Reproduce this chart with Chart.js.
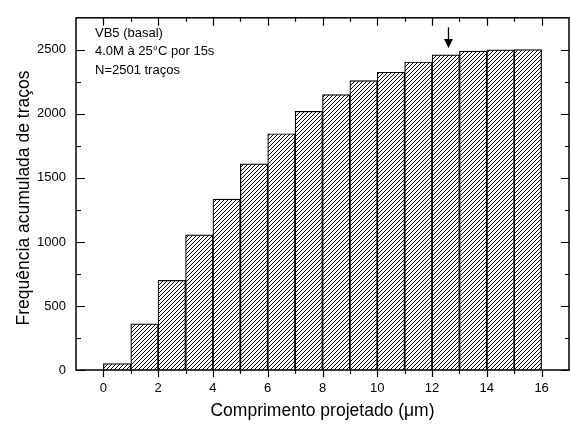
<!DOCTYPE html>
<html>
<head>
<meta charset="utf-8">
<script src="https://cdn.jsdelivr.net/npm/chart.js@4.4.1/dist/chart.umd.min.js"></script>
<style>
  html, body { margin: 0; padding: 0; background: #fff; }
</style>
</head>
<body>
<canvas id="chart" width="570" height="430"></canvas>
<script>
// histogram bins (um) and cumulative counts
const binStart = [0, 1, 2, 3, 4, 5, 6, 7, 8, 9, 10, 11, 12, 13, 14, 15]
const binEnd = [1, 2, 3, 4, 5, 6, 7, 8, 9, 10, 11, 12, 13, 14, 15, 16]
const cumCount = [50, 360, 700, 1055, 1335, 1610, 1845, 2020, 2150, 2260, 2325, 2405, 2460, 2490, 2500, 2501]

const xMajor = [0, 2, 4, 6, 8, 10, 12, 14, 16]
const xMinor = [1, 3, 5, 7, 9, 11, 13, 15]
const yMajor = [0, 500, 1000, 1500, 2000, 2500]
const yMinor = [250, 750, 1250, 1750, 2250]

const notes = ['VB5 (basal)', '4.0M à 25°C por 15s', 'N=2501 traços']
const arrowX = 12.6
const arrowTip = 2515
const arrowTail = 2675

const xTitle = 'Comprimento projetado (\u03bcm)'
const yTitle = 'Frequência acumulada de traços'
const FONT = '"Liberation Sans", Arial, sans-serif'

function hatch() {
  const c = document.createElement('canvas')
  c.width = 4
  c.height = 4
  const g = c.getContext('2d')
  g.fillStyle = '#fff'
  g.fillRect(0, 0, 4, 4)
  g.strokeStyle = '#000'
  g.lineWidth = 1
  g.beginPath()
  g.moveTo(-1, 5); g.lineTo(5, -1)
  g.moveTo(-1, 1); g.lineTo(1, -1)
  g.moveTo(3, 5); g.lineTo(5, 3)
  g.stroke()
  return g.createPattern(c, 'repeat')
}

const extras = {
  id: 'extras',
  afterDraw(chart) {
    const ctx = chart.ctx
    const { left, right, top, bottom } = chart.chartArea
    const xs = chart.scales.x, ys = chart.scales.y
    ctx.save()
    ctx.strokeStyle = '#000'
    ctx.lineWidth = 1.5
    ctx.strokeRect(left, top, right - left, bottom - top)

    ctx.lineWidth = 1.2
    ctx.beginPath()
    xMajor.forEach(v => {
      const px = Math.round(xs.getPixelForValue(v)) + 0.5
      ctx.moveTo(px, bottom); ctx.lineTo(px, bottom + 7)
      ctx.moveTo(px, top); ctx.lineTo(px, top + 8)
    })
    xMinor.forEach(v => {
      const px = Math.round(xs.getPixelForValue(v)) + 0.5
      ctx.moveTo(px, bottom); ctx.lineTo(px, bottom + 4)
      ctx.moveTo(px, top); ctx.lineTo(px, top + 4)
    })
    yMajor.forEach(v => {
      const py = Math.round(ys.getPixelForValue(v)) + 0.5
      ctx.moveTo(left, py); ctx.lineTo(left + 9, py)
      ctx.moveTo(right, py); ctx.lineTo(right - 8, py)
    })
    yMinor.forEach(v => {
      const py = Math.round(ys.getPixelForValue(v)) + 0.5
      ctx.moveTo(left, py); ctx.lineTo(left + 5, py)
      ctx.moveTo(right, py); ctx.lineTo(right - 4, py)
    })
    ctx.stroke()

    // arrow
    const ax = xs.getPixelForValue(arrowX)
    const tipY = ys.getPixelForValue(arrowTip)
    const tailY = ys.getPixelForValue(arrowTail)
    ctx.lineWidth = 1.3
    ctx.beginPath()
    ctx.moveTo(ax, tailY); ctx.lineTo(ax, tipY - 6)
    ctx.stroke()
    ctx.fillStyle = '#000'
    ctx.beginPath()
    ctx.moveTo(ax - 4.5, tipY - 9)
    ctx.lineTo(ax + 4.5, tipY - 9)
    ctx.lineTo(ax, tipY)
    ctx.closePath()
    ctx.fill()

    // notes
    ctx.fillStyle = '#000'
    ctx.font = '13px ' + FONT
    ctx.textAlign = 'left'
    ctx.textBaseline = 'middle'
    notes.forEach((t, i) => ctx.fillText(t, 95, 33 + i * 18.5))

    // axis titles
    ctx.font = '17.5px ' + FONT
    ctx.textAlign = 'center'
    ctx.fillText(xTitle, (left + right) / 2, 411)
    ctx.translate(24, 198)
    ctx.rotate(-Math.PI / 2)
    ctx.fillText(yTitle, 0, 0)
    ctx.restore()
  }
}

new Chart(document.getElementById('chart'), {
  type: 'bar',
  data: {
    datasets: [{
      data: binStart.map((s, i) => ({ x: (s + binEnd[i]) / 2, y: cumCount[i] })),
      backgroundColor: hatch(),
      borderColor: '#000',
      borderWidth: 1.2,
      borderSkipped: 'start',
      barPercentage: 1,
      categoryPercentage: 1
    }]
  },
  options: {
    responsive: false,
    animation: false,
    layout: { padding: { top: 7, right: 1, left: 0, bottom: 0 } },
    plugins: { legend: { display: false }, tooltip: { enabled: false } },
    scales: {
      x: {
        type: 'linear',
        min: -1,
        max: 17,
        offset: false,
        grid: { display: false, drawTicks: false },
        border: { display: false },
        afterBuildTicks: s => { s.ticks = xMajor.map(v => ({ value: v })) },
        afterFit: s => { s.height = 60 },
        ticks: { padding: 11, color: '#000', font: { family: FONT, size: 13 }, maxRotation: 0, callback: v => String(v) }
      },
      y: {
        min: 0,
        max: 2750,
        grid: { display: false, drawTicks: false },
        border: { display: false },
        afterBuildTicks: s => { s.ticks = yMajor.map(v => ({ value: v })) },
        afterFit: s => { s.width = 76 },
        ticks: { padding: 10, color: '#000', font: { family: FONT, size: 13 }, callback: v => String(v) }
      }
    }
  },
  plugins: [extras]
})
</script>
</body>
</html>
